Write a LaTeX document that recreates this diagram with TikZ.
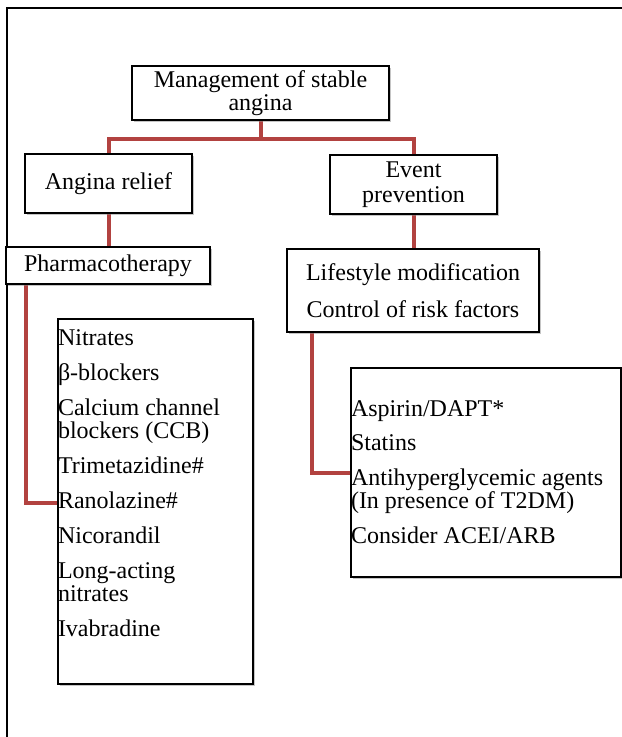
\documentclass[tikz,border=0pt]{standalone}
\usepackage{fontspec}
\setmainfont{Liberation Serif}
\usetikzlibrary{shadows,backgrounds,positioning}
\definecolor{linkred}{RGB}{178,66,64}
\tikzset{box/.style={rectangle,draw=black,line width=1pt,fill=white,inner sep=0pt,
align=center,font=\fontsize{12}{11.75}\selectfont,
drop shadow={shadow xshift=0.8pt,shadow yshift=-0.8pt,fill=black!45,opacity=0.5}},
link/.style={draw=linkred,line width=2pt},
frame/.style={draw=black,line width=1pt}}

\begin{document}
\begin{tikzpicture}[x=0.5pt,y=-0.5pt]
  \useasboundingbox (0,0) rectangle (621,737);
  \draw [frame] (7,760) -- (7,8) -- (640,8);

  \node (mgmt) [box,minimum width=128.5pt,minimum height=27pt] at (260.5,93) {Management of stable\\angina};
  \node (relief) [box,minimum width=83.5pt,minimum height=29.5pt] at (108.5,183.5) {Angina relief};
  \node (event) [box,minimum width=83.5pt,minimum height=29.5pt] at (413.5,184.5) {Event\\[0.75pt]prevention};
  \node (pharma) [box,minimum width=102pt,minimum height=18.5pt] at (108,265.5) {Pharmacotherapy};
  \node (life) [box,minimum width=126pt,minimum height=41.5pt] at (413,290.5) {Lifestyle modification\\[6.5pt]Control of risk factors};

  \node (drugs) [box,anchor=north west] at (57,318) {\parbox[c][182.5pt][t]{97.5pt}{%
    \setlength{\parskip}{5.7pt}\vspace*{-0.4pt}%
    Nitrates\par
    β-blockers\par
    Calcium channel\\blockers (CCB)\par
    Trimetazidine\#\par
    Ranolazine\#\par
    Nicorandil\par
    Long-acting\\nitrates\par
    Ivabradine}};
  \node (prev) [box,anchor=north west] at (350,367) {\parbox[c][104.5pt][t]{135pt}{%
    \setlength{\parskip}{5.4pt}\vspace*{11pt}%
    Aspirin/DAPT*\par
    Statins\par
    Antihyperglycemic agents\\(In presence of T2DM)\par
    Consider ACEI/ARB}};

  \begin{scope}[on background layer]
    \draw [link] (mgmt.south) -- ++(0,18) -| (relief.north);
    \draw [link] (mgmt.south) -- ++(0,18) -| (event.north);
    \draw [link] (relief.south) -- (relief.south |- pharma.north);
    \draw [link] (event.south) -- (event.south |- life.north);
    \draw [link] ([xshift=10.5pt]pharma.south west) |- ([yshift=-0.6pt]drugs.west);
    \draw [link] ([xshift=13pt]life.south west) |- (prev.west);
  \end{scope}
\end{tikzpicture}
\end{document}
